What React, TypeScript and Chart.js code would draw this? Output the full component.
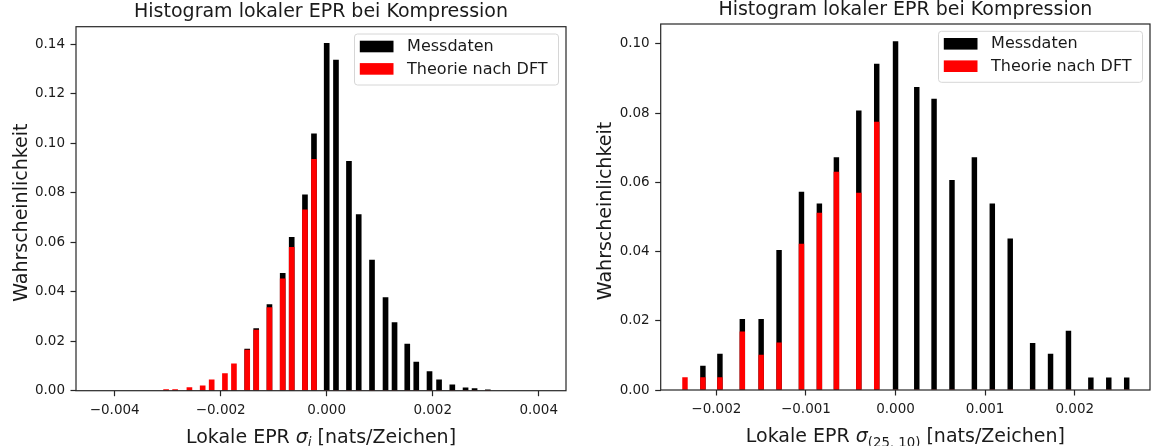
import React, { useEffect, useRef } from 'react';
import { Chart, registerables } from 'chart.js';

Chart.register(...registerables);

const FONT = '"DejaVu Sans", "Liberation Sans", sans-serif';
const TEXT = '#1a1a1a';
const SPINE = '#262626';

// ---------- Left panel: sigma_i ----------
const leftBins = [
  -0.00303, -0.00286, -0.00259, -0.00234, -0.00217, -0.00192, -0.00175, -0.0015,
  -0.00133, -0.00108, -0.00083, -0.00066, -0.00041, -0.00024, 0.0, 0.000175,
  0.00042, 0.000604, 0.000855, 0.00111, 0.00128, 0.00152, 0.00169, 0.00194,
  0.00212, 0.00237, 0.00262, 0.00279, 0.00304,
];
const leftMessdaten = [
  0, 0, 0, 0, 0, 0, 0, 0.0168,
  0.0251, 0.0348, 0.0474, 0.0619, 0.0791, 0.1037, 0.1403, 0.1335,
  0.0926, 0.0711, 0.0527, 0.0376, 0.0275, 0.0188, 0.0116, 0.0077,
  0.0044, 0.0024, 0.0012, 0.0009, 0.0004,
];
const leftTheorie = [
  0.0005, 0.0005, 0.0013, 0.002, 0.0044, 0.0069, 0.0109, 0.0164,
  0.0245, 0.0336, 0.0452, 0.0579, 0.073, 0.0934, 0, 0,
  0, 0, 0, 0, 0, 0, 0, 0,
  0, 0, 0, 0, 0,
];
const leftXTicks = [-0.004, -0.002, 0, 0.002, 0.004];
const leftYTicks = [0, 0.02, 0.04, 0.06, 0.08, 0.1, 0.12, 0.14];

// ---------- Right panel: sigma_(25,10) ----------
const rightBins = [
  -0.00235, -0.00215, -0.00196, -0.00171, -0.0015, -0.0013, -0.00105, -0.00085,
  -0.00066, -0.00041, -0.00021, 0.0, 0.000237, 0.00043, 0.00063, 0.00088,
  0.00108, 0.00128, 0.00153, 0.00173, 0.00193, 0.00218, 0.00238, 0.00258,
];
const rightMessdaten = [
  0, 0.0069, 0.0104, 0.0204, 0.0204, 0.0404, 0.0572, 0.0538,
  0.0672, 0.0807, 0.0942, 0.1007, 0.0875, 0.0841, 0.0606, 0.0672,
  0.0538, 0.0437, 0.0135, 0.0104, 0.017, 0.0035, 0.0035, 0.0035,
];
const rightTheorie = [
  0.0036, 0.0036, 0.0036, 0.0168, 0.0101, 0.0136, 0.0422, 0.0511,
  0.063, 0.0569, 0.0774, 0, 0, 0, 0, 0,
  0, 0, 0, 0, 0, 0, 0, 0,
];
const rightXTicks = [-0.002, -0.001, 0, 0.001, 0.002];
const rightYTicks = [0, 0.02, 0.04, 0.06, 0.08, 0.1];

const TITLE = 'Histogram lokaler EPR bei Kompression';
const Y_LABEL = 'Wahrscheinlichkeit';
const SERIES_NAMES = ['Messdaten', 'Theorie nach DFT'];

type Part = { t: string; italic?: boolean; sub?: boolean };
const leftXLabel: Part[] = [
  { t: 'Lokale EPR ' },
  { t: 'σ', italic: true },
  { t: 'i', italic: true, sub: true },
  { t: ' [nats/Zeichen]' },
];
const rightXLabel: Part[] = [
  { t: 'Lokale EPR ' },
  { t: 'σ', italic: true },
  { t: '(25, 10)', sub: true },
  { t: ' [nats/Zeichen]' },
];

function fmt(v: number, d: number) {
  if (Math.abs(v) < 1e-12) return (0).toFixed(d);
  return (v < 0 ? '\u2212' : '') + Math.abs(v).toFixed(d);
}

type Spec = {
  width: number;
  height: number;
  area: { left: number; right: number; top: number; bottom: number };
  xMin: number;
  xMax: number;
  yMax: number;
  bins: number[];
  mess: number[];
  theorie: number[];
  xTicks: number[];
  yTicks: number[];
  xLabel: Part[];
  barWidth: number;
};

function makeDecor(spec: Spec) {
  return {
    id: 'decor',
    afterDatasetsDraw(chart: any) {
      const { ctx, chartArea: ca } = chart;
      ctx.save();
      ctx.strokeStyle = SPINE;
      ctx.lineWidth = 1.2;
      ctx.strokeRect(ca.left, ca.top, ca.right - ca.left, ca.bottom - ca.top);
      ctx.restore();
    },
    afterDraw(chart: any) {
      const { ctx, chartArea: ca } = chart;
      const cx = (ca.left + ca.right) / 2;
      const cy = (ca.top + ca.bottom) / 2;
      ctx.save();
      ctx.fillStyle = TEXT;
      // title
      ctx.font = `19px ${FONT}`;
      ctx.textAlign = 'center';
      ctx.textBaseline = 'alphabetic';
      ctx.fillText(TITLE, cx, ca.top - 9.3);
      // y label
      ctx.save();
      ctx.translate(ca.left - 54.3, cy + 4);
      ctx.rotate(-Math.PI / 2);
      ctx.textAlign = 'center';
      ctx.textBaseline = 'middle';
      ctx.font = `19px ${FONT}`;
      ctx.fillText(Y_LABEL, 0, 0);
      ctx.restore();
      // x label with math parts
      const fontOf = (p: Part) =>
        `${p.italic ? 'italic ' : ''}${p.sub ? 13.3 : 19}px ${FONT}`;
      let total = 0;
      const widths = spec.xLabel.map((p) => {
        ctx.font = fontOf(p);
        const w = ctx.measureText(p.t).width;
        total += w;
        return w;
      });
      let x = cx - total / 2;
      const base = ca.bottom + 52;
      ctx.textAlign = 'left';
      ctx.textBaseline = 'alphabetic';
      spec.xLabel.forEach((p, i) => {
        ctx.font = fontOf(p);
        ctx.fillText(p.t, x, base + (p.sub ? 4.5 : 0));
        x += widths[i];
      });
      // legend
      const lw = 204;
      const lh = 51;
      const lx = ca.right - 7.5 - lw;
      const ly = ca.top + 7.3;
      ctx.beginPath();
      const r = 3;
      ctx.moveTo(lx + r, ly);
      ctx.lineTo(lx + lw - r, ly);
      ctx.quadraticCurveTo(lx + lw, ly, lx + lw, ly + r);
      ctx.lineTo(lx + lw, ly + lh - r);
      ctx.quadraticCurveTo(lx + lw, ly + lh, lx + lw - r, ly + lh);
      ctx.lineTo(lx + r, ly + lh);
      ctx.quadraticCurveTo(lx, ly + lh, lx, ly + lh - r);
      ctx.lineTo(lx, ly + r);
      ctx.quadraticCurveTo(lx, ly, lx + r, ly);
      ctx.closePath();
      ctx.fillStyle = 'rgba(255,255,255,0.8)';
      ctx.fill();
      ctx.strokeStyle = '#d6d6d6';
      ctx.lineWidth = 1;
      ctx.stroke();
      const ds = chart.data.datasets;
      ctx.font = `16px ${FONT}`;
      ctx.textBaseline = 'middle';
      ds.forEach((d: any, i: number) => {
        const rowY = ly + 12.5 + i * 22.4;
        ctx.fillStyle = d.backgroundColor;
        ctx.fillRect(lx + 5.3, rowY - 5.8, 33.7, 11.6);
        ctx.fillStyle = TEXT;
        ctx.fillText(d.label, lx + 52.6, rowY + 0.5);
      });
      ctx.restore();
    },
  };
}

function makeConfig(spec: Spec): any {
  const a = spec.area;
  return {
    type: 'bar',
    data: {
      datasets: [
        {
          label: SERIES_NAMES[0],
          data: spec.bins.map((x, i) => ({ x, y: spec.mess[i] })),
          backgroundColor: '#000000',
          borderWidth: 0,
          barThickness: spec.barWidth,
          grouped: false,
          order: 1,
        },
        {
          label: SERIES_NAMES[1],
          data: spec.bins.map((x, i) => ({ x, y: spec.theorie[i] })),
          backgroundColor: '#ff0000',
          borderWidth: 0,
          barThickness: spec.barWidth,
          grouped: false,
          order: 0,
        },
      ],
    },
    options: {
      responsive: false,
      animation: false,
      devicePixelRatio: 1,
      layout: {
        padding: { left: 0, right: spec.width - a.right, top: a.top, bottom: 0 },
      },
      plugins: {
        legend: { display: false },
        title: { display: false },
        tooltip: { enabled: false },
      },
      scales: {
        x: {
          type: 'linear',
          offset: false,
          min: spec.xMin,
          max: spec.xMax,
          afterBuildTicks: (s: any) => {
            s.ticks = spec.xTicks.map((v) => ({ value: v }));
          },
          afterFit: (s: any) => {
            s.height = spec.height - a.bottom;
          },
          border: { display: false },
          grid: {
            offset: false,
            drawOnChartArea: false,
            drawTicks: true,
            tickLength: 5.5,
            tickColor: SPINE,
            tickWidth: 1.2,
          },
          ticks: {
            autoSkip: false,
            maxRotation: 0,
            padding: 6,
            color: TEXT,
            font: { family: FONT, size: 13.5 },
            callback: (v: number) => fmt(v, 3),
          },
        },
        y: {
          type: 'linear',
          min: 0,
          max: spec.yMax,
          afterBuildTicks: (s: any) => {
            s.ticks = spec.yTicks.map((v) => ({ value: v }));
          },
          afterFit: (s: any) => {
            s.width = a.left;
          },
          border: { display: false },
          grid: {
            offset: false,
            drawOnChartArea: false,
            drawTicks: true,
            tickLength: 5.5,
            tickColor: SPINE,
            tickWidth: 1.2,
          },
          ticks: {
            autoSkip: false,
            padding: 5.5,
            color: TEXT,
            font: { family: FONT, size: 13.5 },
            callback: (v: number) => fmt(v, 2),
          },
        },
      },
    },
    plugins: [makeDecor(spec)],
  };
}

const leftSpec: Spec = {
  width: 580,
  height: 446,
  area: { left: 76, right: 566, top: 26.7, bottom: 390.7 },
  xMin: -0.00473,
  xMax: 0.004515,
  yMax: 0.14699,
  bins: leftBins,
  mess: leftMessdaten,
  theorie: leftTheorie,
  xTicks: leftXTicks,
  yTicks: leftYTicks,
  xLabel: leftXLabel,
  barWidth: 5,
};

const rightSpec: Spec = {
  width: 576,
  height: 446,
  area: { left: 80.7, right: 570, top: 24, bottom: 390 },
  xMin: -0.002621,
  xMax: 0.00284,
  yMax: 0.10578,
  bins: rightBins,
  mess: rightMessdaten,
  theorie: rightTheorie,
  xTicks: rightXTicks,
  yTicks: rightYTicks,
  xLabel: rightXLabel,
  barWidth: 4.8,
};

function Panel({ spec, left }: { spec: Spec; left: number }) {
  const ref = useRef<HTMLCanvasElement | null>(null);
  useEffect(() => {
    if (!ref.current) return;
    const chart = new Chart(ref.current, makeConfig(spec));
    return () => chart.destroy();
  }, [spec]);
  return (
    <canvas
      ref={ref}
      width={spec.width}
      height={spec.height}
      style={{
        position: 'absolute',
        left,
        top: 0,
        width: spec.width,
        height: spec.height,
      }}
    />
  );
}

export default function App() {
  return (
    <div
      style={{
        position: 'absolute',
        left: 0,
        top: 0,
        width: 1156,
        height: 446,
        background: '#ffffff',
        overflow: 'hidden',
      }}
    >
      <Panel spec={leftSpec} left={0} />
      <Panel spec={rightSpec} left={580} />
    </div>
  );
}
